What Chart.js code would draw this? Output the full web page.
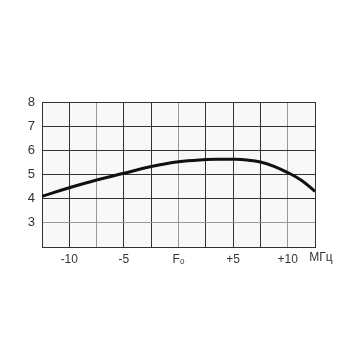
<!DOCTYPE html>
<html>
<head>
<meta charset="utf-8">
<script src="https://cdn.jsdelivr.net/npm/chart.js@4.4.0/dist/chart.umd.min.js"></script>
<style>
  html, body { margin: 0; padding: 0; background: #fff; }
  #wrap { width: 360px; height: 360px; }
</style>
</head>
<body>
<div id="wrap"><canvas id="chart"></canvas></div>
<script>
// frequency offset, MHz
let freqs = [-12.5, -10, -7.5, -5, -2.5, 0, 2.5, 3.75, 5, 6.25, 7.5, 8.75, 10, 11.25, 12.5];
// curve values
let values = [4.1, 4.45, 4.77, 5.05, 5.33, 5.53, 5.62, 5.635, 5.63, 5.6, 5.52, 5.34, 5.08, 4.76, 4.3];
// x tick labels
let xLabels = {"-10": "-10", "-5": "-5", "0": "F\u2092", "5": "+5", "10": "+10"};
let yLabels = ["3", "4", "5", "6", "7", "8"];
let unitLabel = "МГц";

let grayX = [-7.5, 0, 10];
let grayY = [3];

let plotBg = {
    id: 'plotBg',
    beforeDraw(chart) {
        let a = chart.chartArea;
        let ctx = chart.ctx;
        ctx.save();
        ctx.fillStyle = '#f8f8f8';
        ctx.fillRect(a.left, a.top, a.right - a.left, a.bottom - a.top);
        ctx.restore();
    },
    afterDraw(chart) {
        let a = chart.chartArea;
        let ctx = chart.ctx;
        ctx.save();
        ctx.fillStyle = '#333';
        ctx.font = '12px "Liberation Sans", Arial, sans-serif';
        ctx.textAlign = 'center';
        ctx.textBaseline = 'middle';
        ctx.fillText(unitLabel, a.right + 6, a.bottom + 11);
        ctx.restore();
    }
};

new Chart(document.getElementById('chart'), {
    type: 'line',
    data: {
        datasets: [{
            data: freqs.map((f, i) => ({x: f, y: values[i]})),
            borderColor: '#111',
            borderWidth: 3,
            pointRadius: 0,
            tension: 0.4,
            fill: false
        }]
    },
    options: {
        responsive: true,
        maintainAspectRatio: false,
        animation: false,
        layout: { padding: { left: 0, top: 102, right: 45, bottom: 83 } },
        plugins: { legend: { display: false }, tooltip: { enabled: false } },
        scales: {
            x: {
                type: 'linear',
                min: -12.5,
                max: 12.5,
                afterBuildTicks(scale) {
                    let t = [];
                    for (let v = -12.5; v <= 12.5; v += 2.5) t.push({value: v});
                    scale.ticks = t;
                },
                afterFit(scale) { scale.height = 30; },
                border: { color: '#333', width: 1 },
                grid: {
                    drawTicks: false,
                    color: ctx => grayX.includes(ctx.tick.value) ? '#999' : '#333',
                    lineWidth: 1
                },
                ticks: {
                    padding: 5,
                    autoSkip: false,
                    maxRotation: 0,
                    color: '#333',
                    font: { family: '"Liberation Sans", Arial, sans-serif', size: 12 },
                    callback: v => xLabels[String(v)] || ''
                }
            },
            y: {
                min: 2,
                max: 8,
                afterFit(scale) { scale.width = 42; },
                border: { color: '#333', width: 1 },
                grid: {
                    drawTicks: false,
                    color: ctx => grayY.includes(ctx.tick.value) ? '#999' : '#333',
                    lineWidth: 1
                },
                ticks: {
                    stepSize: 1,
                    padding: 7,
                    color: '#333',
                    font: { family: '"Liberation Sans", Arial, sans-serif', size: 13 },
                    callback: v => yLabels.includes(String(v)) ? String(v) : ''
                }
            }
        }
    },
    plugins: [plotBg]
});
</script>
</body>
</html>
